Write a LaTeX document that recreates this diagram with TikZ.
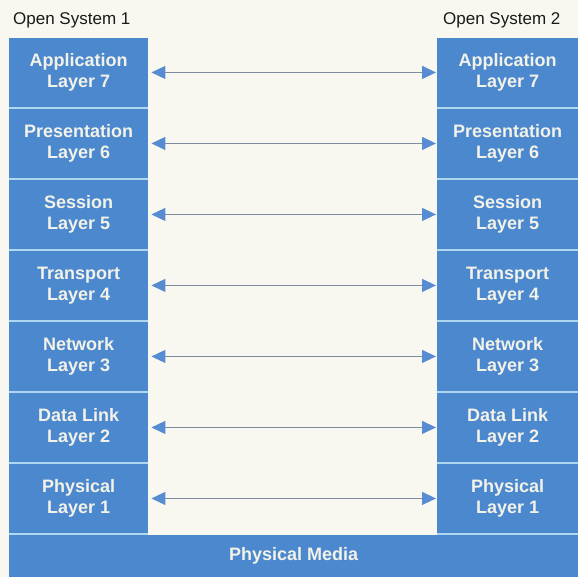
\documentclass[tikz,border=0pt]{standalone}
\usepackage{fontspec}
\setmainfont{Liberation Sans}
\usetikzlibrary{arrows.meta}
\definecolor{bg}{RGB}{248,248,241}
\definecolor{boxblue}{RGB}{76,136,206}
\definecolor{gapblue}{RGB}{175,215,240}
\definecolor{txtwhite}{RGB}{242,242,232}
\definecolor{tipblue}{RGB}{88,140,210}
\definecolor{linegray}{RGB}{125,140,160}
\definecolor{titlecol}{RGB}{25,25,25}
\tikzset{
  layerbox/.style={rectangle, fill=boxblue, inner sep=0pt, minimum width=139pt, minimum height=68.5pt, anchor=north west, align=center, text=txtwhite, font=\fontsize{18}{21}\selectfont\bfseries},
  mediabox/.style={rectangle, fill=boxblue, inner sep=0pt, minimum width=569pt, minimum height=42pt, anchor=north west, text=txtwhite, font=\fontsize{18}{21}\selectfont\bfseries},
  titletext/.style={anchor=base west, inner sep=0pt, text=titlecol, font=\fontsize{17}{20}\selectfont},
  peer/.style={draw=linegray, line width=1.3pt, shorten <=3pt, shorten >=1pt, {Triangle[length=14pt,width=13pt,color=tipblue]}-{Triangle[length=14pt,width=13pt,color=tipblue]}}
}
\begin{document}
\begin{tikzpicture}[x=1pt,y=-1pt]
\useasboundingbox (0,0) rectangle (578,577);
\fill[bg] (0,0) rectangle (578,577);
% light separator backgrounds
\fill[gapblue] (9,38) rectangle (148,577);
\fill[gapblue] (437,38) rectangle (578,577);
\node[titletext] (t1) at (13,25) {Open System 1};
\node[titletext] (t2) at (443,25) {Open System 2};
\foreach \i/\name/\num [count=\k from 0] in {7/Application/7,6/Presentation/6,5/Session/5,4/Transport/4,3/Network/3,2/Data Link/2,1/Physical/1}{
  \pgfmathsetmacro{\top}{38+71*\k}
  \node[layerbox] (L\i) at (9,\top) {\name\\Layer \num};
  \node[layerbox, minimum width=141pt] (R\i) at (437,\top) {\name\\Layer \num};
  \draw[peer] (L\i.east) -- (R\i.west);
}
\node[mediabox] (media) at (9,535) {Physical Media};
\end{tikzpicture}
\end{document}
